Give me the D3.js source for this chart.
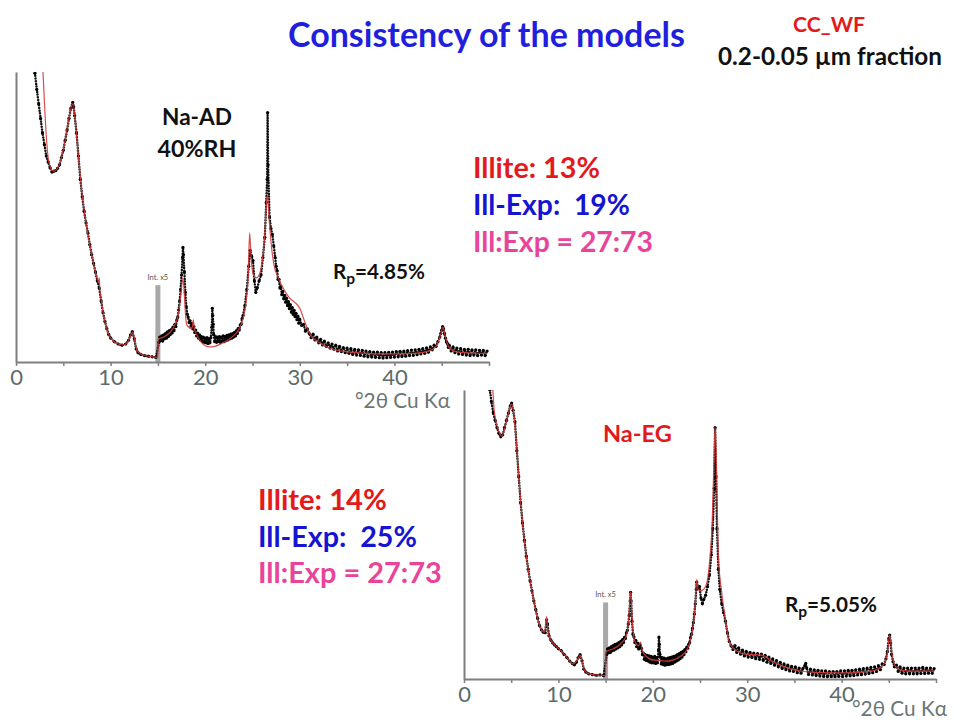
<!DOCTYPE html>
<html><head><meta charset="utf-8">
<script src="https://cdn.jsdelivr.net/npm/d3@7"></script>
<style>body{margin:0;background:#fff}text{white-space:pre}</style>
</head><body>
<svg id="c" width="956" height="720" xmlns="http://www.w3.org/2000/svg"></svg>
<script>
// ---------- DATA ----------
const xTickValues = [0,5,10,15,20,25,30,35,40,45,50];
const xLabelValues = [0,10,20,30,40];
const scaleBreak = 15;          // Int. x5 beyond this angle
const breakHeight = 26.5;       // height of the grey marker (relative intensity)
const xLabel = "°2θ Cu Kα";

// Na-AD 40%RH: observed (°2θ, relative intensity as displayed)
const adObs = [[2.0,99.6],[2.2,94],[2.4,89],[2.6,84],[2.8,79],[3.0,75],[3.2,71],[3.4,69],[3.6,67],[3.8,65.5],
[4.0,65.8],[4.2,66],[4.4,66.8],[4.6,68],[4.8,70.5],[5.0,73],[5.2,76.5],[5.4,80],[5.6,84],[5.8,87.5],[6.0,89.5],
[6.1,88],[6.2,85],[6.4,79],[6.6,71],[6.8,63],[7.0,57],[7.2,52],[7.4,48],[7.6,44.5],[7.8,40.5],[8.0,37],[8.2,34],
[8.4,31],[8.6,28],[8.8,25.5],[9.0,21],[9.2,17],[9.4,14],[9.6,11.5],[9.8,9.5],[10.0,8.3],[10.4,7],[10.8,6.2],
[11.2,5.8],[11.6,6.2],[11.9,7.5],[12.1,9.3],[12.3,10.5],[12.5,8.0],[12.7,4.5],[12.9,3.2],[13.2,2.6],[13.6,2.2],
[14.0,2.0],[14.4,1.8],[14.8,1.6],
[15.1,6.8],[15.2,8.6],[15.3,7.4],[15.4,9.0],[15.5,7.2],[15.6,9.4],[15.7,8.0],[15.8,9.8],[15.9,8.2],[16.0,10.4],
[16.1,8.8],[16.2,10.8],[16.3,9.4],[16.4,11.2],[16.5,10.0],[16.6,12.0],[16.7,10.8],[16.8,13.0],[16.9,12.2],[17.0,14.5],
[17.1,15.5],[17.2,18],[17.3,21],[17.4,25],[17.5,30],[17.6,36],[17.65,39.5],[17.7,37],[17.8,31],[17.9,24],[18.0,19],
[18.1,16.5],[18.2,15.5],[18.3,13.6],[18.4,14.2],[18.5,12.4],[18.6,13.2],[18.7,11.4],[18.8,12.2],[18.9,10.2],[19.0,11.0],
[19.1,9.0],[19.2,10.0],[19.3,8.2],[19.4,9.4],[19.5,7.6],[19.6,8.8],[19.7,7.0],[19.8,8.6],[19.9,6.8],[20.0,8.2],
[20.1,6.6],[20.2,8.4],[20.3,6.4],[20.4,8.0],[20.5,6.6],[20.6,8.4],[20.7,12],[20.75,18.5],[20.8,16],[20.85,13],
[20.9,9.5],[21.0,7.0],[21.1,8.8],[21.2,6.8],[21.3,8.6],[21.4,7.0],[21.5,8.8],[21.6,6.8],[21.7,8.6],[21.8,7.2],
[21.9,9.0],[22.0,7.0],[22.1,8.8],[22.2,7.4],[22.3,9.2],[22.4,7.6],[22.5,9.4],[22.6,8.0],[22.7,9.6],[22.8,8.2],
[22.9,9.8],[23.0,8.6],[23.1,10.2],[23.2,9.0],[23.3,10.8],[23.4,9.8],[23.5,11.6],[23.6,11.0],[23.7,12.8],[23.8,13.0],
[23.9,15],[24.0,16],[24.2,19.5],[24.4,25],[24.6,33],[24.75,38.5],[24.9,36.5],[25.05,35],[25.2,28],[25.35,24],
[25.5,25.5],[25.7,28],[25.9,30],[26.1,36],[26.3,43],[26.45,55],[26.55,63],[26.6,86],[26.65,68],[26.8,50],[26.95,46],
[27.1,44],[27.25,40],[27.4,36],[27.5,33],[27.6,31.5],[27.7,28.5],[27.8,28.5],[27.9,25.5],[28.0,26],[28.1,23.2],
[28.2,24.4],[28.3,21.8],[28.4,23.0],[28.5,20.6],[28.6,22.0],[28.7,19.4],[28.8,20.8],[28.9,18.4],[29.0,19.8],
[29.1,17.2],[29.2,18.8],[29.3,16.4],[29.4,17.8],[29.5,15.6],[29.6,16.8],[29.7,14.6],[29.8,15.8],[29.9,13.4],
[30.0,14.8],[30.2,12.6],[30.4,13.0],[30.6,10.6],[30.8,11.4],
[31.0,9.8],[31.2,8.4],[31.4,9.6],[31.6,7.6],[31.8,8.6],[32.0,6.6],[32.2,7.8],[32.4,5.9],[32.6,7.2],[32.8,5.4],
[33.0,6.6],[33.2,4.8],[33.4,6.2],[33.6,4.4],[33.8,5.8],[34.0,3.8],[34.2,5.4],[34.4,3.6],[34.6,5.0],[34.8,3.2],
[35.0,4.8],[35.2,3.0],[35.4,4.6],[35.6,2.6],[35.8,4.4],[36.0,2.4],[36.2,4.2],[36.4,2.3],[36.6,4.0],[36.8,2.0],
[37.0,3.8],[37.2,1.8],[37.4,3.6],[37.6,1.7],[37.8,3.4],[38.0,1.6],[38.2,3.4],[38.4,1.5],[38.6,3.2],[38.8,1.4],
[39.0,3.2],[39.2,1.5],[39.4,3.3],[39.6,1.6],[39.8,3.4],[40.0,1.7],[40.2,3.6],[40.4,1.8],[40.6,3.7],[40.8,1.9],
[41.0,3.8],[41.2,2.0],[41.4,3.9],[41.6,2.2],[41.8,4.1],[42.0,2.3],[42.2,4.2],[42.4,2.5],[42.6,4.4],[42.8,2.8],
[43.0,4.6],[43.2,3.0],[43.4,4.9],[43.6,3.4],[43.8,5.2],[44.0,4.2],[44.2,5.8],[44.4,5.4],[44.6,7.0],[44.8,8.6],
[44.9,9.8],[45.0,11],[45.1,12.2],[45.2,11.5],[45.3,9.8],[45.4,8.2],[45.5,7.0],[45.6,6.4],[45.7,5.0],[45.8,5.8],
[46.0,3.8],[46.2,5.2],[46.4,3.2],[46.6,4.8],[46.8,2.8],[47.0,4.6],[47.2,2.6],[47.4,4.4],[47.6,2.4],[47.8,4.4],
[48.0,2.2],[48.2,4.2],[48.4,2.4],[48.6,4.2],[48.8,2.2],[49.0,4.0],[49.2,2.4],[49.4,4.0],[49.6,2.2],[49.8,3.8]];

// Na-AD 40%RH: calculated profile
const adCalc = [[2.85,100],[3.0,90],[3.2,78],[3.4,70.5],[3.6,67.5],[3.8,66],[4.0,65.8],[4.4,66.8],[4.8,70.5],
[5.2,76.5],[5.6,84],[5.9,88.5],[6.05,89],[6.3,82],[6.6,71],[7.0,57.5],[7.4,48],[7.8,40.5],[8.2,34],[8.6,28.5],
[8.75,27.5],[8.8,29],[8.85,26],[9.0,21.5],[9.4,14],[9.8,9.5],[10.2,7.5],[10.8,6.2],[11.4,5.9],[11.9,7.4],
[12.2,9.8],[12.35,10.4],[12.55,7.5],[12.8,3.8],[13.4,2.5],[14.4,1.8],[15.0,1.6],[15.02,7.8],[15.6,8.6],[16.2,10],
[16.8,12.8],[17.2,17],[17.45,24],[17.65,28.8],[17.8,23],[17.95,15],[18.1,12.5],[18.6,11.5],[18.75,14.5],
[18.85,11.5],[19.2,8.8],[19.6,6.8],[20.0,5.6],[20.5,5.2],[21.0,5.4],[21.5,6.0],[22.0,6.8],[22.5,7.8],[23.0,9.0],
[23.5,11],[24.0,15],[24.3,20],[24.55,30],[24.7,44.5],[24.85,36],[25.1,30],[25.4,29],[25.7,30],[26.0,34],
[26.3,44],[26.5,56],[26.6,57.5],[26.75,50],[27.0,40],[27.3,33],[27.6,30],[28.0,27],[28.5,24],[29.0,21.8],
[29.5,20.5],[30.0,18.5],[30.4,15],[30.8,11.5],[31.2,9],[32.0,6.8],[33.0,5],[34.0,4],[36.0,3.2],[38.0,2.8],
[40.0,2.8],[42.0,3],[43.5,3.6],[44.4,5.4],[44.9,9.5],[45.15,12],[45.4,8.5],[45.8,5],[46.5,3.6],[48.0,3.1],[49.8,3.0]];

// Na-EG: observed
const egObs = [[2.74,100],[2.9,96],[3.1,92],[3.3,89.5],[3.5,87],[3.7,85],[3.9,83.8],[4.1,84.5],[4.3,87],[4.5,89.5],
[4.7,92],[4.9,94.5],[5.05,95.5],[5.2,93],[5.4,89],[5.6,79],[5.8,70],[6.0,61],[6.2,54],[6.4,48],[6.6,42.5],[6.8,38],
[7.0,34],[7.2,30.5],[7.4,27],[7.6,24],[7.8,21],[8.0,18.5],[8.2,17],[8.4,16.2],[8.6,16],[8.75,20.5],[8.85,19],
[9.0,15],[9.2,13.5],[9.4,12.5],[9.6,11.8],[9.8,11.2],[10.0,10.5],[10.3,9.8],[10.6,8.5],[10.9,7.4],[11.2,6.2],
[11.5,5.3],[11.7,4.9],[11.9,5.8],[12.1,7.4],[12.3,8.4],[12.5,6.3],[12.7,3.4],[12.9,2.4],[13.2,1.8],[13.6,1.5],
[14.0,1.3],[14.4,1.4],[14.8,1.2],
[15.1,8.4],[15.2,10.4],[15.3,9.0],[15.4,10.8],[15.5,9.2],[15.6,11.2],[15.7,9.8],[15.8,11.6],[15.9,10.0],[16.0,12.0],
[16.1,10.4],[16.2,12.2],[16.3,10.8],[16.4,12.6],[16.5,11.2],[16.6,13.0],[16.7,11.8],[16.8,13.6],[16.9,12.6],[17.0,14.4],
[17.1,14.0],[17.2,16.0],[17.3,16.8],[17.4,19],[17.5,22],[17.6,27],[17.65,30],[17.7,27],[17.8,20],[17.9,15.5],
[18.0,14.6],[18.1,12.6],[18.2,13.4],[18.3,11.2],[18.4,12.4],[18.5,10.4],[18.6,12.0],[18.7,11.4],[18.8,10.6],
[18.9,8.4],[19.0,9.0],[19.1,6.8],[19.2,8.4],[19.3,6.4],[19.4,8.2],[19.5,6.2],[19.6,8.0],[19.7,5.8],[19.8,7.8],
[19.9,5.6],[20.0,7.6],[20.1,5.6],[20.2,7.8],[20.3,5.4],[20.4,7.4],[20.5,5.6],[20.6,10],[20.65,14.5],[20.7,12],
[20.75,8.6],[20.8,7.6],[20.9,5.2],[21.0,7.4],[21.1,5.0],[21.2,7.2],[21.3,4.8],[21.4,7.0],[21.5,5.0],[21.6,7.2],
[21.7,5.0],[21.8,7.4],[21.9,5.2],[22.0,7.6],[22.1,5.4],[22.2,7.8],[22.3,5.8],[22.4,8.0],[22.5,6.2],[22.6,8.4],
[22.7,6.6],[22.8,8.8],[22.9,7.0],[23.0,9.2],[23.1,7.6],[23.2,9.6],[23.3,8.4],[23.4,10.2],[23.5,9.4],[23.6,11.0],
[23.7,10.6],[23.8,12.0],[23.9,12.6],[24.0,14.4],[24.1,15.5],[24.2,17.5],[24.3,19.5],[24.4,22.5],[24.5,26],
[24.6,31],[24.65,33.5],[24.8,31.5],[24.95,32],[25.1,28],[25.25,26],[25.4,27.5],
[25.6,29],[25.8,32],[26.0,36],[26.2,43],[26.35,52],[26.5,66],[26.6,87],[26.7,70],[26.8,52],[26.95,38],[27.1,31],
[27.3,26],[27.5,23],[27.7,20],[27.9,16],[28.1,13],
[28.3,11.5],[28.5,10.2],[28.7,11.6],[28.9,9.2],[29.1,10.8],[29.3,8.6],[29.5,10.0],[29.7,8.0],[29.9,9.6],[30.1,7.6],
[30.3,9.2],[30.5,7.4],[30.7,9.0],[30.9,7.0],[31.1,8.8],[31.3,6.8],[31.5,8.6],[31.7,6.4],[31.9,8.2],[32.1,5.8],
[32.3,7.6],[32.5,5.4],[32.7,7.0],[32.9,4.8],[33.1,6.4],[33.3,4.2],[33.5,5.8],[33.7,3.6],[33.9,5.2],[34.1,3.2],
[34.3,4.8],[34.5,2.8],[34.7,4.4],[34.9,2.6],[35.1,4.2],[35.3,2.2],[35.5,3.8],[35.7,2.0],[35.9,3.6],[36.1,4.6],
[36.2,5.4],[36.3,3.8],[36.5,1.6],[36.7,3.4],[36.9,1.4],[37.1,3.2],[37.3,1.2],[37.5,3.0],[37.7,1.0],[37.9,2.8],
[38.1,0.9],[38.3,2.8],[38.5,0.8],[38.7,2.6],[38.9,0.8],[39.1,2.6],[39.3,0.8],[39.5,2.6],[39.7,0.9],[39.9,2.8],
[40.1,0.9],[40.3,2.8],[40.5,1.0],[40.7,3.0],[40.9,1.1],[41.1,3.0],[41.3,1.2],[41.5,3.2],[41.7,1.4],[41.9,3.4],
[42.1,1.5],[42.3,3.6],[42.5,1.7],[42.7,3.8],[42.9,1.9],[43.1,4.0],[43.3,2.2],[43.5,4.2],[43.7,2.6],[43.9,4.6],
[44.1,3.2],[44.3,5.2],[44.5,5.0],[44.7,7.0],[44.85,9.5],[45.0,14],[45.1,15.2],[45.2,12.5],[45.3,8.5],[45.45,6.0],
[45.6,4.2],[45.8,4.8],[46.0,2.6],[46.2,4.2],[46.4,2.0],[46.6,3.8],[46.8,1.8],[47.0,3.8],[47.2,1.8],[47.4,3.8],
[47.6,1.8],[47.8,3.8],[48.0,1.8],[48.2,3.8],[48.4,1.9],[48.6,4.0],[48.8,1.9],[49.0,3.8],[49.2,2.0],[49.4,3.8],
[49.6,2.0],[49.8,3.6]];

// Na-EG: calculated profile
const egCalc = [[3.05,100],[3.2,93],[3.4,89],[3.7,85.5],[4.0,84],[4.3,86.5],[4.7,92],[5.0,95],[5.2,93.5],[5.5,84],
[5.8,70],[6.2,54],[6.6,42.5],[7.0,34],[7.4,27],[7.8,21],[8.2,17],[8.55,16.2],[8.75,21.6],[8.9,16.5],[9.2,13.5],
[9.8,11.2],[10.4,9.4],[11.0,7.0],[11.6,5.2],[12.0,6.6],[12.3,8.3],[12.5,6.2],[12.8,2.8],[13.4,1.6],[14.5,1.3],
[15.0,1.2],[15.02,9.4],[15.8,10.4],[16.6,12.2],[17.2,15],[17.45,21],[17.65,30.2],[17.85,19],[18.05,13.5],[18.5,11.5],
[18.7,12.8],[18.9,9.8],[19.4,7.6],[20.0,6.6],[20.8,6.4],[21.5,6.2],[22.2,6.6],[23.0,8.0],[23.6,10],[24.0,13.5],
[24.3,19],[24.5,26],[24.65,34.5],[24.8,31],[25.0,30.5],[25.3,30.8],[25.7,33],[26.0,40],[26.3,55],[26.5,78],
[26.6,87.3],[26.7,80],[26.95,42.3],[27.3,30],[27.65,21.6],[28.0,14],[28.3,11.5],[29.0,9.5],[30.0,8.4],[31.0,8.4],
[31.8,8.0],[32.5,6.4],[33.5,4.8],[34.5,3.6],[36.0,2.6],[38.0,2.2],[40.0,2.1],[42.0,2.4],[43.5,3.0],[44.4,4.8],
[44.85,9],[45.1,15.2],[45.35,8.5],[45.7,4.4],[46.5,2.9],[48.0,2.7],[49.8,2.8]];

const adComposition = ["Illite: 13%", "Ill-Exp:  19%", "Ill:Exp = 27:73"];
const egComposition = ["Illite: 14%", "Ill-Exp:  25%", "Ill:Exp = 27:73"];
const compositionColors = ["#e3191c", "#1414d2", "#e8449a"];
const adRp = "4.85%";
const egRp = "5.05%";

// ---------- DRAWING ----------
const svg = d3.select("#c");
const FONT = "Lato, 'Open Sans', sans-serif";

function fit(t, w) {
  const fs = parseFloat(t.attr("font-size"));
  const cur = t.node().getComputedTextLength();
  t.attr("font-size", fs * w / cur);
  return t;
}

const panels = [
  {id:"ad", obs:adObs, calc:adCalc, x0:16, x1:489, yTop:72, yBot:362, labelY:408, labelX:355},
  {id:"eg", obs:egObs, calc:egCalc, x0:464, x1:936, yTop:390, yBot:679, labelY:716, labelX:852}
];

panels.forEach(p => {
  const x = d3.scaleLinear().domain([0,50]).range([p.x0, p.x1]);
  const y = d3.scaleLinear().domain([0,100]).range([p.yBot, p.yTop]);
  const g = svg.append("g");

  g.append("clipPath").attr("id", "clip-" + p.id)
    .append("rect").attr("x", p.x0).attr("y", p.yTop).attr("width", p.x1 - p.x0).attr("height", p.yBot - p.yTop);

  // grey scale-change marker
  g.append("rect")
    .attr("x", x(scaleBreak) - 2.5).attr("width", 5)
    .attr("y", y(breakHeight)).attr("height", y(0) - y(breakHeight))
    .attr("fill", "#a8a8a8");
  g.append("text")
    .attr("x", x(scaleBreak)).attr("y", y(breakHeight) - 5)
    .attr("text-anchor", "middle").attr("font-family", FONT).attr("font-size", 7.5)
    .attr("fill", "#555").text("Int. x5");

  const plot = g.append("g").attr("clip-path", `url(#clip-${p.id})`);

  // observed as dense dots
  plot.append("path").datum(p.obs)
    .attr("d", d3.line().x(d => x(d[0])).y(d => y(d[1])))
    .attr("fill", "none").attr("stroke", "#111").attr("stroke-width", 2.5)
    .attr("stroke-linecap", "round").attr("stroke-dasharray", "0 2.7");
  plot.selectAll("circle.obs").data(p.obs).join("circle")
    .attr("class", "obs")
    .attr("cx", d => x(d[0])).attr("cy", d => y(d[1])).attr("r", 1.6).attr("fill", "#000");

  // calculated profile
  plot.append("path").datum(p.calc)
    .attr("d", d3.line().x(d => x(d[0])).y(d => y(d[1])).curve(d3.curveMonotoneX))
    .attr("fill", "none").attr("stroke", "#d23a3a").attr("stroke-width", 1.2)
    .attr("stroke-opacity", 0.9);

  // axes
  const ax = g.append("g").attr("transform", `translate(0,${p.yBot})`)
    .call(d3.axisBottom(x).tickValues(xTickValues).tickSize(4).tickSizeOuter(0)
      .tickFormat(d => xLabelValues.includes(d) ? d : ""));
  ax.select(".domain").attr("stroke", "#7f7f7f").attr("stroke-width", 2);
  ax.selectAll(".tick line").attr("stroke", "#7f7f7f").attr("stroke-width", 1.5);
  ax.selectAll(".tick text").attr("font-family", FONT).attr("font-size", 22)
    .attr("fill", "#5c6b6b");

  const ay = g.append("g").attr("transform", `translate(${p.x0},0)`)
    .call(d3.axisLeft(y).tickValues([]).tickSizeOuter(0));
  ay.select(".domain").attr("stroke", "#7f7f7f").attr("stroke-width", 2);

  const xl = g.append("text").attr("x", p.labelX).attr("y", p.labelY)
    .attr("font-family", FONT).attr("font-size", 17).attr("fill", "#6a7575").text(xLabel);
  fit(xl, 95);
});

// ---------- TEXT ----------
function txt(s, x, y, color, w, anchor) {
  const t = svg.append("text").attr("x", x).attr("y", y).attr("font-family", FONT)
    .attr("font-weight", "bold").attr("font-size", 24).attr("fill", color)
    .attr("text-anchor", anchor || "start").text(s);
  if (w) fit(t, w);
  return t;
}

txt("Consistency of the models", 288, 47, "#1f1fdd", 397);
txt("CC_WF", 829, 32, "#e3191c", 72, "middle");
txt("0.2-0.05 µm fraction", 718, 65, "#111", 224);
txt("Na-AD", 197, 125, "#111", 70, "middle");
txt("40%RH", 197, 157, "#111", 79, "middle");
txt("Na-EG", 603, 442, "#e3191c", 69);

const adW = [127, 157, 180], egW = [129, 159, 184];
adComposition.forEach((s, i) => txt(s, 473, 178 + i * 37, compositionColors[i], adW[i]));
egComposition.forEach((s, i) => txt(s, 258, 510 + i * 36.5, compositionColors[i], egW[i]));

function rp(val, x, y, w) {
  const t = svg.append("text").attr("x", x).attr("y", y).attr("font-family", FONT)
    .attr("font-weight", "bold").attr("font-size", 18).attr("fill", "#111");
  t.append("tspan").text("R");
  t.append("tspan").attr("font-size", "0.75em").attr("dy", 5).text("p");
  t.append("tspan").attr("dy", -5).text("=" + val);
  fit(t, w);
}
rp(adRp, 333, 279, 92);
rp(egRp, 785, 612, 92);
</script>
</body></html>
